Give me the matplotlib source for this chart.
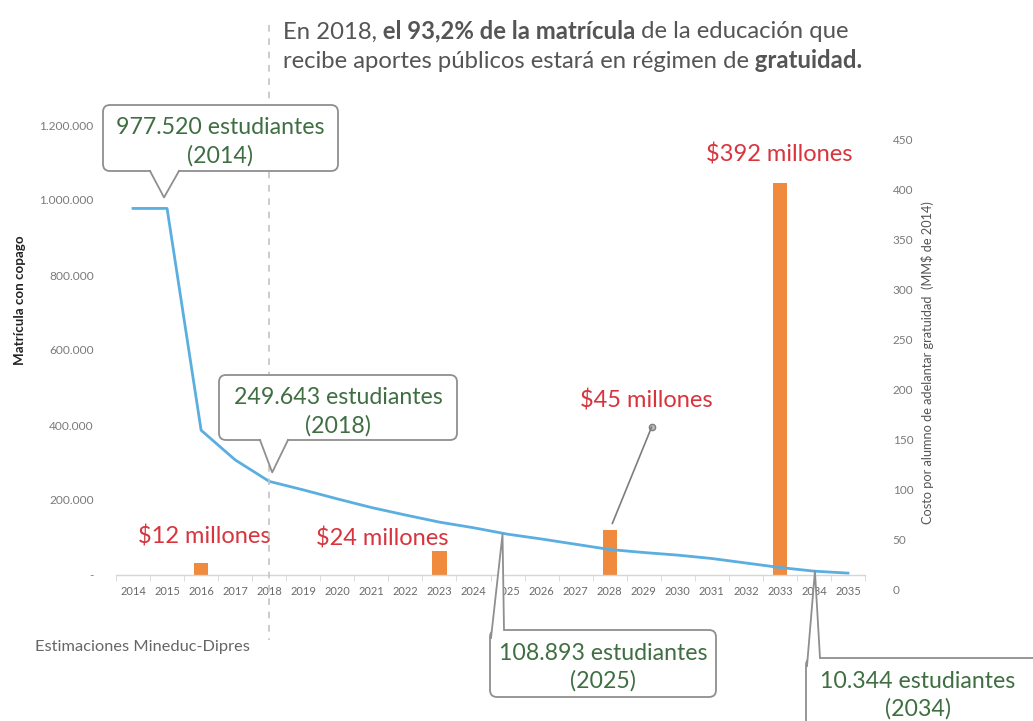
import matplotlib
matplotlib.use('Agg')
import matplotlib.pyplot as plt
import numpy as np
from matplotlib.patches import FancyBboxPatch, Polygon
from matplotlib.lines import Line2D
from matplotlib.transforms import IdentityTransform, ScaledTranslation
from matplotlib.text import Annotation
import matplotlib.ticker as mticker

# ---------------- data ----------------
years = list(range(2014, 2036))
year_labels = [str(y) for y in years]
matricula = [977520, 977520, 386000, 307000, 249643, 227000, 203000, 180000,
             160000, 141000, 126000, 108893, 96000, 82000, 68000, 60000,
             53000, 44000, 32000, 20000, 10344, 5000]
cost_years = [2016, 2023, 2028, 2033]
cost_values = [12, 24, 45, 392]
cost_labels = ['$12 millones', '$24 millones', '$45 millones', '$392 millones']
callout_years = [2014, 2018, 2025, 2034]
callout_values = [977520, 249643, 108893, 10344]
callout_line1 = ['977.520 estudiantes', '249.643 estudiantes', '108.893 estudiantes', '10.344 estudiantes']
callout_line2 = ['(2014)', '(2018)', '(2025)', '(2034)']
left_ticks = [0, 200000, 400000, 600000, 800000, 1000000, 1200000]
right_ticks = [0, 50, 100, 150, 200, 250, 300, 350, 400, 450]
highlight_year = 2018

FONT = 'Lato'
plt.rcParams['font.family'] = [FONT, 'DejaVu Sans']

W, H = 1033, 721
fig = plt.figure(figsize=(W / 100, H / 100), dpi=100)
fig.patch.set_facecolor('white')

ax = fig.add_axes([116 / W, 1 - 575 / H, 749 / W, 450 / H])
ax2 = ax.twinx()
ax.set_zorder(ax2.get_zorder() + 1)
ax.patch.set_visible(False)

BLUE = '#5aaee0'
ORANGE = '#f08a3c'
RED = '#d8343d'
GREEN = '#3f6e42'
GRAY_T = '#7a7a7a'

ax.plot(years, matricula, color=BLUE, lw=2.0, solid_joinstyle='round')
ax2.bar(cost_years, cost_values, width=0.42, color=ORANGE)

ax.set_xlim(2013.5, 2035.5)
ax.set_ylim(0, 1200000)
ax2.set_ylim(0, 450)

for a in (ax, ax2):
    for s in a.spines.values():
        s.set_visible(False)
ax.spines['bottom'].set_visible(True)
ax.spines['bottom'].set_color('#d6d6d6')
ax.spines['bottom'].set_linewidth(1.0)

ax.set_xticks(years)
ax.set_xticklabels(year_labels)
ax.set_xticks(np.arange(2013.5, 2036, 1), minor=True)
ax.tick_params(axis='x', which='major', length=0, pad=8, labelsize=8, labelcolor='#6a6a6a')
ax.tick_params(axis='x', which='minor', length=4, color='#d6d6d6', direction='out')

ax.set_yticks(left_ticks)
ax.yaxis.set_major_formatter(mticker.FuncFormatter(
    lambda v, p: '-' if v == 0 else f'{v:,.0f}'.replace(',', '.')))
ax.tick_params(axis='y', length=0, pad=16, labelsize=8.6, labelcolor=GRAY_T)

ax2.set_yticks(right_ticks)
ax2.tick_params(axis='y', length=0, pad=20, labelsize=8.5, labelcolor=GRAY_T)
for lbl in ax2.get_yticklabels():
    lbl.set_transform(lbl.get_transform() + ScaledTranslation(0, -15 / 100, fig.dpi_scale_trans))

ID = IdentityTransform()

def P(x, ytop):
    return (x, H - ytop)

# axis titles
fig.text(*P(20, 300), 'Matrícula con copago', rotation=90, ha='center', va='center',
         fontsize=9.6, fontweight='bold', color='#222222', transform=ID)
fig.text(*P(928, 363), 'Costo por alumno de adelantar gratuidad  (MM$ de 2014)', rotation=90,
         ha='center', va='center', fontsize=9.2, color='#555555', transform=ID)

# source
fig.text(*P(35, 647), 'Estimaciones Mineduc-Dipres', ha='left', va='center',
         fontsize=11.8, color='#666666', transform=ID)

# dashed 2018 line
xd = ax.transData.transform((highlight_year, 0))[0]
fig.add_artist(Line2D([xd, xd], [H - 25, H - 640], transform=ID, color='#c4c4c4',
                      lw=1.2, dashes=(4, 4), zorder=6))

# title with mixed bold
def rich_line(x, ytop, pieces, size=17.2, color='#555555'):
    prev = fig.text(*P(x, ytop), pieces[0][0], ha='left', va='center', fontsize=size,
                    fontweight=pieces[0][1], color=color, transform=ID, zorder=7)
    for txt, wt in pieces[1:]:
        a = Annotation(txt, xy=(1, 0), xycoords=prev, ha='left', va='bottom',
                       fontsize=size, fontweight=wt, color=color, zorder=7)
        fig.add_artist(a)
        prev = a

rich_line(283, 32, [('En 2018,', 'normal'), (' el 93,2% de la matrícula', 'bold'),
                    (' de la educación que', 'normal')])
rich_line(283, 61, [('recibe aportes públicos estará en régimen de', 'normal'),
                    (' gratuidad.', 'bold')])

# cost labels
label_offsets = [(3, 26), (-57, 13), (37, 130), (-1, 29)]
for yr, v, lab, off in zip(cost_years, cost_values, cost_labels, label_offsets):
    ax2.annotate(lab, xy=(yr, v), xytext=off, textcoords='offset pixels', ha='center',
                 va='center', fontsize=17, color=RED, annotation_clip=False)

# leader for $45 millones
i45 = 2
ax2.annotate('', xy=(cost_years[i45], cost_values[i45]), xytext=(42, 103),
             textcoords='offset pixels',
             arrowprops=dict(arrowstyle='-', color='#7d7d7d', lw=1.2, shrinkA=0, shrinkB=5))
ax2.plot([cost_years[i45]], [cost_values[i45]], marker='o', ms=4.5, mfc='#bdbdbd',
         mec='#7d7d7d', mew=1,
         transform=ax2.transData + ScaledTranslation(42 / 100, 103 / 100, fig.dpi_scale_trans),
         clip_on=False)

# callout bubbles (boxes given in top-left pixel layout coords)
boxes = [(103, 105, 338, 171), (219, 375, 457, 440), (490, 630, 716, 697), (806, 658, 1045, 740)]
tip_offsets = [(31, 11), (3, 9), (-5, 0), (1, 0)]
ptr_kind = ['bottom', 'bottom', 'spike', 'spike']
ptr_base = [(150, 179), (260, 288), (None, None), (None, None)]
EC = '#8f8f8f'

for k in range(4):
    x0, y0, x1, y1 = boxes[k]
    bx, by = x0, H - y1
    bw, bh = x1 - x0, y1 - y0
    fig.add_artist(FancyBboxPatch((bx, by), bw, bh, boxstyle='round,pad=0,rounding_size=7',
                                  transform=ID, fc='white', ec=EC, lw=1.3, zorder=8))
    tx, ty = ax.transData.transform((callout_years[k], callout_values[k]))
    tx += tip_offsets[k][0]
    ty += tip_offsets[k][1]
    if ptr_kind[k] == 'bottom':
        bl, br = ptr_base[k]
        ybase = H - y1
        fig.add_artist(Polygon([(bl, ybase + 2), (tx, ty), (br, ybase + 2)], closed=True,
                               transform=ID, fc='white', ec='none', zorder=8.5))
        fig.add_artist(Line2D([bl, tx, br], [ybase, ty, ybase], transform=ID, color=EC,
                              lw=1.3, zorder=9))
    else:
        ybase = H - y0
        bl, br = x0 + 1, x0 + 14
        fig.add_artist(Polygon([(bl, ybase - 8), (tx, ty), (br, ybase - 2)], closed=True,
                               transform=ID, fc='white', ec='none', zorder=8.5))
        fig.add_artist(Line2D([bl, tx, br], [ybase - 8, ty, ybase], transform=ID, color=EC,
                              lw=1.3, zorder=9))
    cx = (x0 + min(x1, 1031)) / 2 if k < 3 else 918
    fig.text(cx, H - (y0 + 23), callout_line1[k], ha='center', va='center', fontsize=16.7,
             color=GREEN, transform=ID, zorder=10)
    fig.text(cx, H - (y0 + 51), callout_line2[k], ha='center', va='center', fontsize=16.7,
             color=GREEN, transform=ID, zorder=10)

fig.savefig('out.png', dpi=100, facecolor='white')
